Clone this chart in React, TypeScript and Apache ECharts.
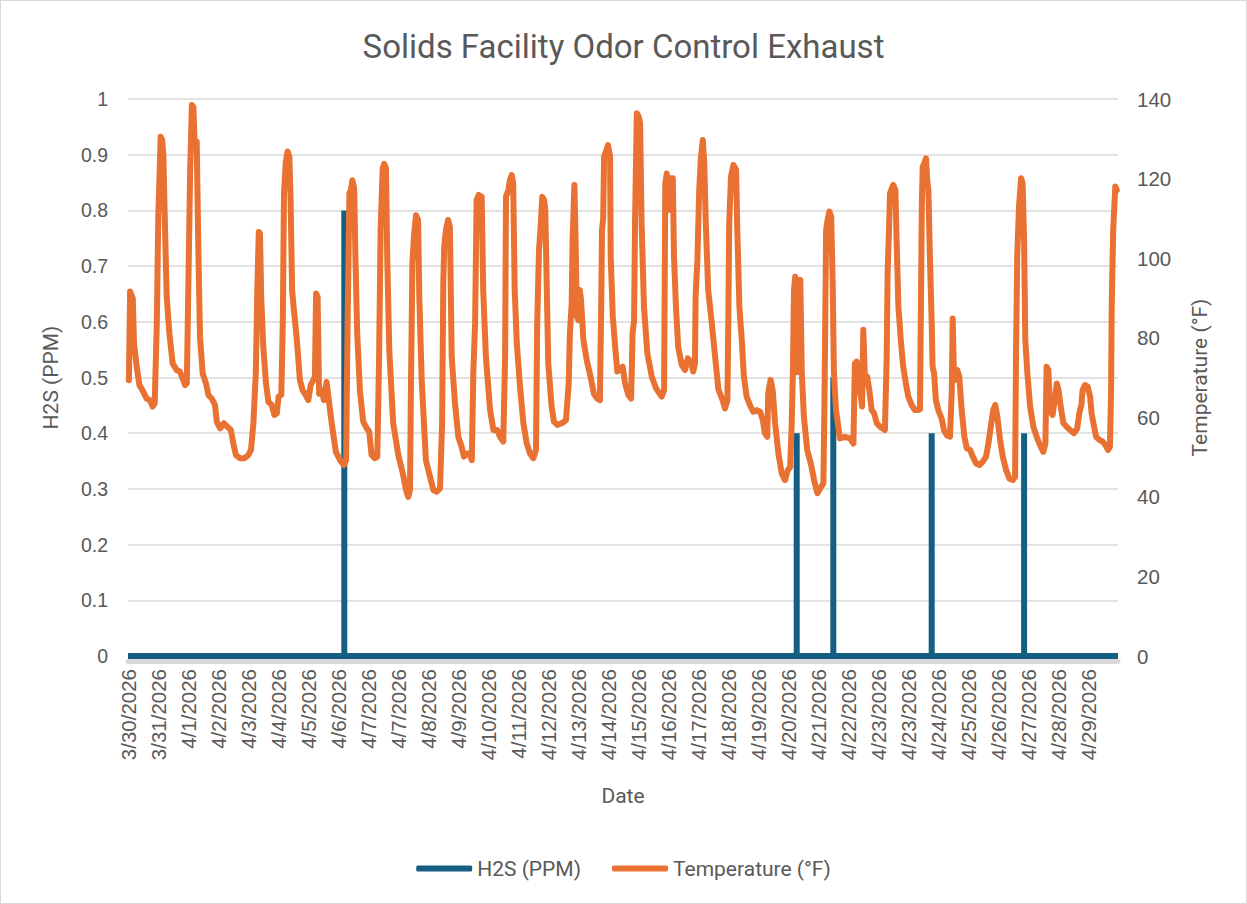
import React, { useEffect, useRef } from "react";
import * as echarts from "echarts";

// Tick labels of the category (date) axis, one every 10 samples
const dateLabels = [
  "3/30/2026", "3/31/2026", "4/1/2026", "4/2/2026", "4/3/2026", "4/4/2026",
  "4/5/2026", "4/6/2026", "4/7/2026", "4/7/2026", "4/8/2026", "4/9/2026",
  "4/10/2026", "4/11/2026", "4/12/2026", "4/13/2026", "4/14/2026", "4/15/2026",
  "4/16/2026", "4/17/2026", "4/18/2026", "4/19/2026", "4/20/2026", "4/21/2026",
  "4/22/2026", "4/23/2026", "4/23/2026", "4/24/2026", "4/25/2026", "4/26/2026",
  "4/27/2026", "4/28/2026", "4/29/2026",
];
const samplesPerLabel = 10;
const lastSample = 330;

// H2S readings: zero everywhere except these samples
const h2sSpikeSamples = [72.1, 222.9, 235.1, 267.9, 298.7];
const h2sSpikePPM = [0.8, 0.4, 0.5, 0.4, 0.4];

// Temperature readings: [sample, °F]
const temperatureReadings: [number, number][] = [
  [0.3, 69.3], [0.7, 91.6], [1.6, 89.9], [2, 78.6], [2.9, 72.7], [3.8, 68.1], [5.1, 66.4], [6.2, 64.7],
  [7.3, 64.3], [8.2, 62.7], [8.9, 63.5], [9.6, 83.6], [10.1, 110.4], [10.9, 130.5], [11.4, 129.7],
  [11.8, 125.5], [12.3, 108.7], [12.9, 90.3], [13.8, 81.1], [14.9, 73.5], [16.2, 71.9], [17.3, 71.5],
  [18.2, 69.8], [19, 68.1], [19.6, 68.5], [20.1, 92], [20.7, 121.3], [21.3, 138.5], [21.8, 138],
  [22.2, 128.9], [22.9, 129.3], [23.4, 104.6], [24, 80.2], [24.9, 71], [26, 68.5], [26.8, 65.6],
  [27.9, 64.7], [29, 63.1], [29.6, 58.9], [30.7, 57.2], [32, 58.5], [33.1, 57.6], [34.3, 56.8],
  [35.1, 53.4], [36, 50.5], [37.3, 49.7], [38.8, 49.7], [40.1, 50.5], [41, 51.8], [41.8, 58.5],
  [42.6, 71], [43.1, 92], [43.6, 106.6], [44, 106.2], [44.4, 90.3], [45.1, 77.7], [46, 68.5],
  [46.8, 63.9], [47.9, 63.1], [48.8, 60.6], [49.6, 61], [50.2, 65.2], [51.1, 65.6], [51.6, 83.6],
  [52, 116.3], [52.6, 124.2], [53.2, 126.8], [53.8, 125.5], [54.2, 114.6], [54.7, 92], [55.3, 87],
  [56.2, 80.2], [57.3, 69.4], [58.2, 66.8], [59, 65.9], [60.1, 64.3], [60.9, 68.1], [61.8, 69.4],
  [62.3, 70.2], [62.7, 91.1], [63.2, 90.3], [63.7, 65.9],
  [64.6, 66.8], [65.3, 64.3], [66.2, 68.9], [66.8, 65.2], [67.9, 58.5], [69.3, 51.3], [70.7, 49.2],
  [72, 48], [72.7, 49.2], [73.2, 83.6], [73.8, 116.3], [74.3, 117.1], [74.8, 119.6], [75.4, 117.5],
  [75.8, 100.4], [76.4, 81.1], [77.3, 66.8], [78.4, 58.9], [79.6, 57.2], [80.4, 56.4], [81.2, 50.5],
  [82.3, 49.7], [83.1, 50.1], [83.7, 75.2], [84.2, 107.1], [84.9, 122.6], [85.4, 123.7], [86, 122.6],
  [86.4, 100.4], [87.1, 76.9], [88.4, 58.5], [90.1, 50.5], [91.6, 45.9], [92.7, 41.7], [93.4, 40],
  [94, 41.7], [94.3, 66.8], [94.8, 98.7], [95.3, 105.4], [96, 110.8], [96.7, 109.6], [97.1, 90.3],
  [97.9, 69.4], [99.3, 49.2], [100.7, 45], [101.8, 41.7], [102.9, 41.3], [104, 42.1], [104.7, 58.5],
  [105.1, 93.7], [105.4, 102.9], [106, 107.1], [106.7, 109.6], [107.3, 107.9], [107.9, 75.2],
  [109, 63.5], [110.1, 55.1], [111.2, 52.6], [112, 50.1], [112.9, 50.9], [113.8, 50.9], [114.6, 49.2],
  [115.1, 71], [115.7, 83.6], [116.2, 114.6], [116.9, 115.9], [117.9, 115.4], [118.4, 92],
  [119.3, 75.2], [120.7, 61.8], [121.8, 56.8], [123.1, 56.8], [124, 55.1], [125.1, 53.9],
  [125.7, 75.2], [126, 115.4], [126.8, 117.1], [127.3, 119.6], [127.9, 120.9], [128.4, 118.8],
  [128.9, 92], [129.6, 78.6], [130.7, 67.5],
  [131.8, 58.5], [132.9, 53.4], [134, 50.9], [135.1, 49.7], [136, 51.8], [136.4, 83.6], [137, 102],
  [137.6, 108.7], [138.1, 115.4], [138.7, 114.6], [139.1, 112.1], [139.6, 92], [140.1, 73.5],
  [141.2, 62.7], [142, 58.9], [143.1, 58.1], [144.6, 58.5], [146, 59.3], [146.9, 68.5], [147.3, 81.1],
  [147.9, 88.6], [148.2, 104.6], [148.8, 118.4], [149.2, 104.6], [149.6, 85.3], [150.1, 84.4],
  [150.6, 92], [151, 89.5], [151.8, 79.4], [152.9, 74.4], [154.2, 70.2], [155.3, 65.9], [156.4, 64.7],
  [157.3, 64.3], [157.8, 92], [158, 107.1], [158.4, 110], [158.7, 125.5], [159.3, 126.8], [160, 128.4],
  [160.7, 125.5], [160.9, 100.4], [161.6, 85.3], [162.3, 78.6], [163.1, 71.5], [164, 71.9],
  [164.9, 72.7], [165.7, 68.5], [166.8, 65.6], [167.7, 64.7], [168.2, 81.1], [168.7, 84.4],
  [169, 108.7], [169.6, 136.4], [170.2, 135.6], [170.7, 133.9], [171.2, 108.7], [172, 87.8],
  [173.1, 76.1], [174.6, 70.2], [176, 67.3], [176.8, 66.4], [177.9, 65.2], [178.7, 66.8],
  [179.1, 118.8], [179.6, 121.3], [180.2, 112.1], [180.9, 120.1], [181.6, 120.1], [182, 100.4],
  [182.7, 87], [183.4, 77.7], [184.6, 73.1], [185.7, 71.9], [186.6, 74.8], [187.6, 74], [188.4, 71.5],
  [189, 73.5], [189.2, 90.3], [189.8, 99.5], [190.4, 117.1], [191, 125.5], [191.6, 129.7],
  [192.1, 123.8], [192.6, 108.7], [193.4, 92], [194.6, 83.6], [195.7, 75.2], [196.8, 67],
  [198.2, 64.3], [199, 62.2], [199.8, 64.3], [200.1, 83.6], [200.4, 108.7], [201, 120.5],
  [201.8, 123.4], [202.7, 122.2], [203.1, 107.1], [203.8, 87.8], [204.6, 79.4], [205.3, 70.2],
  [206.2, 65.2], [207.3, 63.1], [208.4, 61.4], [209.6, 61.8], [210.7, 61.4], [211.6, 59.3], [212.3, 56],
  [213.1, 55.1], [213.4, 66], [214.2, 69.4], [214.9, 66.8], [215.7, 58.5], [216.8, 50.9], [217.9, 45.9],
  [219, 44.2], [219.9, 46.7], [220.7, 47.5], [221.2, 57.6], [221.6, 70.2], [222, 92], [222.4, 95.3],
  [223, 71.3], [223.4, 94.5], [224.1, 94.5], [224.6, 71.3], [225.3, 60.1], [226.4, 51.8],
  [227.6, 48.4], [228.7, 44.2], [229.8, 40.9], [230.7, 42.1], [231.8, 43.4], [232.2, 66.8],
  [232.7, 107.1], [233.2, 109.6], [233.8, 111.7], [234.4, 110.4], [234.9, 93.7], [235.3, 71.3],
  [236, 61.8], [237.3, 54.7], [239, 55.1], [240.7, 54.7], [241.8, 53.4], [242.3, 73.5], [242.9, 74],
  [243.4, 69.4], [244, 66.8], [244.7, 62.7], [245.1, 82], [245.7, 68.5], [246.4, 70.2], [247.1, 66.8],
  [247.9, 61.8], [248.7, 61], [249.6, 58.5], [250.7, 57.6], [251.6, 57.2], [252.3, 56.8],
  [252.9, 75.2], [253.2, 96.2], [253.7, 107.9], [254, 116.3], [254.6, 117.5], [255.1, 118.4],
  [255.8, 117.1], [256.2, 104.6], [256.8, 87.8], [257.6, 79.4], [258.4, 72.7], [259.3, 68.5],
  [260.1, 65.2], [261.2, 63.1], [262.3, 61.8], [263.4, 61.8],
  [264, 62], [264.6, 112.9], [264.9, 123], [265.4, 123.8], [266, 125.1], [266.4, 119.6], [266.8, 117.1],
  [267.3, 100.4], [267.9, 83.6], [268.2, 72.7], [268.7, 71], [269.3, 64.3], [270.1, 61.8],
  [271.2, 59.7], [272, 56.8], [272.9, 55.5], [274, 55.1], [274.6, 66.8], [274.9, 84.8], [275.3, 71.3],
  [275.8, 69.4], [276.4, 71.9], [277.1, 70.2], [277.9, 61.8], [278.8, 55.1], [279.6, 52.2],
  [280.7, 51.8], [281.6, 50.1], [282.7, 48.4], [283.8, 48], [284.9, 48.8], [286, 50.1], [286.8, 53.4],
  [287.6, 57.6], [288.4, 61.8], [289.1, 63.1], [289.8, 60.1], [290.7, 54.3], [291.6, 50.1],
  [292.7, 46.7], [293.8, 44.6], [294.9, 44.2], [295.7, 45], [296, 75.2], [296.4, 100.4], [297, 112.9],
  [297.7, 120.1], [298.2, 118.8], [298.7, 104.6], [299.1, 79.4], [299.8, 71], [300.7, 62.7],
  [301.8, 57.6], [302.9, 55.1], [304, 53], [305.1, 51.3], [305.8, 53.4], [306.2, 72.7], [306.8, 71.9],
  [307.3, 61.8], [308.2, 60.6], [309, 65.2], [309.6, 68.5], [310.2, 66.8], [310.9, 62.7],
  [311.8, 58.5], [312.9, 57.6], [314, 56.8], [315.3, 56], [316.4, 57.2], [317.1, 61], [317.8, 63.1],
  [318.2, 66.8], [319, 68.1], [319.9, 67.7], [320.7, 65.2], [321.2, 61], [321.8, 58.5], [322.7, 55.1],
  [323.8, 54.3], [324.9, 53.9], [325.8, 53], [326.7, 51.8], [327.3, 52.6], [327.7, 66.8],
  [327.9, 87.8], [328.4, 107.1], [329.1, 118], [329.6, 117.1],
];

const TEXT = "#595959";
const GRID = "#d9d9d9";
const BLUE = "#156082";
const ORANGE = "#E97132";
const FONT = "Roboto, 'Liberation Sans', sans-serif";
const TICK_FONT = "'Liberation Sans', Arial, sans-serif";

function buildH2S(): [number, number][] {
  const out: [number, number][] = [[0, 0]];
  h2sSpikeSamples.forEach((s, i) => {
    out.push([s, 0], [s, h2sSpikePPM[i]], [s, 0]);
  });
  out.push([lastSample, 0]);
  return out;
}

export default function App() {
  const ref = useRef<HTMLDivElement>(null);

  useEffect(() => {
    if (!ref.current) return;
    const chart = echarts.init(ref.current, undefined, { renderer: "svg" });
    chart.setOption({
      animation: false,
      backgroundColor: "#ffffff",
      title: {
        text: "Solids Facility Odor Control Exhaust",
        left: "center",
        top: 25,
        textStyle: { fontFamily: FONT, fontSize: 33, fontWeight: "normal", color: TEXT },
      },
      grid: { left: 128, right: 129, top: 99, bottom: 248 },
      legend: {
        top: 853,
        left: "center",
        icon: "roundRect",
        itemWidth: 56,
        itemHeight: 6,
        itemGap: 31,
        textStyle: { fontFamily: FONT, fontSize: 21, color: TEXT },
        data: ["H2S (PPM)", "Temperature (°F)"],
      },
      xAxis: {
        type: "value",
        min: 0,
        max: lastSample,
        interval: samplesPerLabel,
        offset: 5,
        name: "Date",
        nameLocation: "middle",
        nameGap: 124,
        nameTextStyle: { fontFamily: FONT, fontSize: 21, color: TEXT },
        axisLine: { show: true, onZero: false, lineStyle: { color: GRID, width: 5 } },
        axisTick: { show: false },
        splitLine: { show: false },
        axisLabel: {
          rotate: 90,
          margin: 8,
          fontFamily: TICK_FONT,
          fontSize: 20.5,
          color: TEXT,
          showMaxLabel: false,
          formatter: (v: number) => {
            const i = Math.round(v / samplesPerLabel);
            return i < dateLabels.length ? dateLabels[i] : "";
          },
        },
      },
      yAxis: [
        {
          type: "value",
          min: 0,
          max: 1,
          interval: 0.1,
          name: "H2S (PPM)",
          nameLocation: "middle",
          nameRotate: 90,
          nameGap: 67,
          nameTextStyle: { fontFamily: FONT, fontSize: 21, color: TEXT },
          axisLine: { show: false },
          axisTick: { show: false },
          axisLabel: { margin: 20, fontFamily: TICK_FONT, fontSize: 19.5, color: TEXT },
          splitLine: { lineStyle: { color: GRID, width: 1.5 } },
        },
        {
          type: "value",
          min: 0,
          max: 140,
          interval: 20,
          position: "right",
          name: "Temperature (°F)",
          nameLocation: "middle",
          nameRotate: 90,
          nameGap: 71,
          nameTextStyle: { fontFamily: FONT, fontSize: 21, color: TEXT },
          axisLine: { show: false },
          axisTick: { show: false },
          axisLabel: { margin: 19, fontFamily: TICK_FONT, fontSize: 20.5, color: TEXT },
          splitLine: { show: false },
        },
      ],
      series: [
        {
          name: "H2S (PPM)",
          type: "line",
          yAxisIndex: 0,
          data: buildH2S(),
          symbol: "none",
          lineStyle: { width: 6, color: BLUE },
          itemStyle: { color: BLUE },
        },
        {
          name: "Temperature (°F)",
          type: "line",
          yAxisIndex: 1,
          data: temperatureReadings,
          symbol: "none",
          lineStyle: { width: 6, color: ORANGE, join: "round", cap: "round" },
          itemStyle: { color: ORANGE },
        },
      ],
    });
    return () => chart.dispose();
  }, []);

  return (
    <div style={{ position: "absolute", left: 0, top: 0, width: 1247, height: 904 }}>
      <div ref={ref} style={{ position: "absolute", left: 0, top: 0, width: 1247, height: 904 }} />
      <div
        style={{
          position: "absolute",
          left: 0,
          top: 0,
          width: 1247,
          height: 904,
          boxSizing: "border-box",
          border: "1px solid #d9d9d9",
          pointerEvents: "none",
        }}
      />
    </div>
  );
}
